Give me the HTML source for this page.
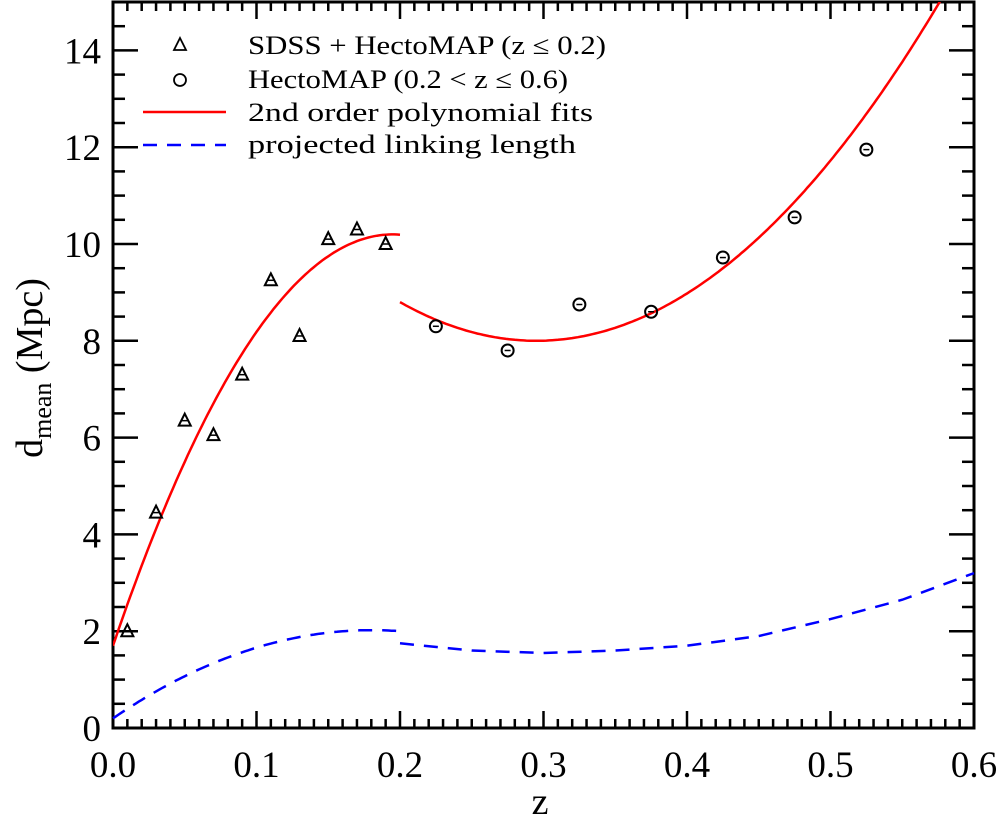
<!DOCTYPE html>
<html><head><meta charset="utf-8"><style>
html,body{margin:0;padding:0;background:#fff;}
svg{display:block;font-family:"Liberation Serif",serif;}
</style></head><body>
<svg id="chart" width="1000" height="819" viewBox="0 0 1000 819">
<g id="axes"></g>
<g id="series"></g>
<g id="legend">
 <polygon points="180,38 186,50 174,50" fill="none" stroke="#000" stroke-width="1.8"/>
 <text x="248" y="54" font-size="26" textLength="358" lengthAdjust="spacingAndGlyphs">SDSS + HectoMAP (z ≤ 0.2)</text>
 <circle cx="180" cy="80" r="6" fill="none" stroke="#000" stroke-width="1.8"/>
 <text x="248" y="88" font-size="26" textLength="320" lengthAdjust="spacingAndGlyphs">HectoMAP (0.2 &lt; z ≤ 0.6)</text>
 <line x1="143" y1="112" x2="226" y2="112" stroke="#f00" stroke-width="2.5"/>
 <text x="248" y="121" font-size="26" textLength="345" lengthAdjust="spacingAndGlyphs">2nd order polynomial fits</text>
 <line x1="143" y1="145" x2="226" y2="145" stroke="#00f" stroke-width="2.5" stroke-dasharray="14,10"/>
 <text x="248" y="153" font-size="26" textLength="328" lengthAdjust="spacingAndGlyphs">projected linking length</text>
</g>
<text x="540" y="814" font-size="38" text-anchor="middle">z</text>
<text transform="translate(42,368) rotate(-90)" font-size="38" text-anchor="middle">d<tspan font-size="26" dy="9">mean</tspan><tspan dy="-9"> (Mpc)</tspan></text>
</svg>
<script>
const triZ=[0.01,0.03,0.05,0.07,0.09,0.11,0.13,0.15,0.17,0.19];
const triD=[2.0,4.45,6.35,6.05,7.3,9.25,8.1,10.1,10.3,10.0];
const circZ=[0.225,0.275,0.325,0.375,0.425,0.475,0.525];
const circD=[8.3,7.8,8.75,8.6,9.72,10.55,11.95];
const fit1Coef=[1.7,87.2,-223.7];
const fit2Coef=[15.71,-52.27,88.6];
const link1Coef=[0.2,20.2,-56];
const link2Z=[0.2,0.25,0.3,0.35,0.4,0.45,0.5,0.55,0.6];
const link2D=[1.75,1.6,1.55,1.6,1.7,1.9,2.25,2.65,3.2];
const xTicks=["0.0","0.1","0.2","0.3","0.4","0.5","0.6"];
const yTicks=["0","2","4","6","8","10","12","14"];

const X0=113,X1=974,Y0=728,Y1=2;
const xs=z=>X0+z/0.6*(X1-X0);
const ys=v=>Y0-v*48.4;
const NS="http://www.w3.org/2000/svg";
function mk(p,t,a){const e=document.createElementNS(NS,t);for(const k in a)e.setAttribute(k,a[k]);p.appendChild(e);return e;}
const ax=document.getElementById('axes'),se=document.getElementById('series');
let fr=mk(ax,'rect',{x:X0,y:Y1,width:X1-X0,height:Y0-Y1,fill:'none',stroke:'#000','stroke-width':3});


for(let i=0;i<=60;i++){const z=i*0.01,x=xs(z),maj=i%10==0,L=maj?17:9;
 let t1=mk(ax,'line',{x1:x,y1:Y0,x2:x,y2:Y0-L,stroke:'#000','stroke-width':2.5});
 
 
 let t2=mk(ax,'line',{x1:x,y1:Y1,x2:x,y2:Y1+L,stroke:'#000','stroke-width':2.5});
 
 }
xTicks.forEach((s,i)=>{let t=mk(ax,'text',{x:xs(i*0.1),y:777,'font-size':37,'text-anchor':'middle'});t.textContent=s;
 
 });
for(let i=0;i<=30;i++){const v=i*0.5,y=ys(v);if(y<Y1)continue;const maj=i%4==0,L=maj?25:12;
 let t1=mk(ax,'line',{x1:X0,y1:y,x2:X0+L,y2:y,stroke:'#000','stroke-width':2.5});
 
 
 let t2=mk(ax,'line',{x1:X1,y1:y,x2:X1-L,y2:y,stroke:'#000','stroke-width':2.5});
 
 }
yTicks.forEach((s,i)=>{let t=mk(ax,'text',{x:101,y:ys(i*2)+13,'font-size':37,'text-anchor':'end'});t.textContent=s;
 
 });
const poly=(c,z)=>c[0]+c[1]*z+c[2]*z*z;
function curve(c,a,b){let p=[];for(let z=a;z<=b+1e-9;z+=0.002){const v=poly(c,z);if(v>15.2)break;p.push(xs(z).toFixed(1)+','+ys(v).toFixed(1));}return p.join(' ');}
let clip=mk(document.getElementById('chart'),'clipPath',{id:'pc'});mk(clip,'rect',{x:X0,y:Y1,width:X1-X0,height:Y0-Y1});
let f1=mk(se,'polyline',{points:curve(fit1Coef,0,0.2),fill:'none',stroke:'#f00','stroke-width':2.5,'clip-path':'url(#pc)'});


let f2=mk(se,'polyline',{points:curve(fit2Coef,0.2,0.6),fill:'none',stroke:'#f00','stroke-width':2.5,'clip-path':'url(#pc)'});


let l1=mk(se,'polyline',{points:curve(link1Coef,0,0.2),fill:'none',stroke:'#00f','stroke-width':2.5,'stroke-dasharray':'14,10'});


let l2=mk(se,'polyline',{points:link2Z.map((z,i)=>xs(z)+','+ys(link2D[i])).join(' '),fill:'none',stroke:'#00f','stroke-width':2.5,'stroke-dasharray':'14,10'});


triZ.forEach((z,i)=>{const x=xs(z),y=ys(triD[i]);
 let m=mk(se,'polygon',{points:`${x},${y-7} ${x+6},${y+5} ${x-6},${y+5}`,fill:'none',stroke:'#000','stroke-width':2});
 
 
 mk(se,'line',{x1:x-3,y1:y,x2:x+3,y2:y,stroke:'#000','stroke-width':1.5});});
circZ.forEach((z,i)=>{const x=xs(z),y=ys(circD[i]);
 let m=mk(se,'circle',{cx:x,cy:y,r:6,fill:'none',stroke:'#000','stroke-width':2});
 
 
 mk(se,'line',{x1:x-3,y1:y,x2:x+3,y2:y,stroke:'#000','stroke-width':1.5});});
</script>
</body></html>
